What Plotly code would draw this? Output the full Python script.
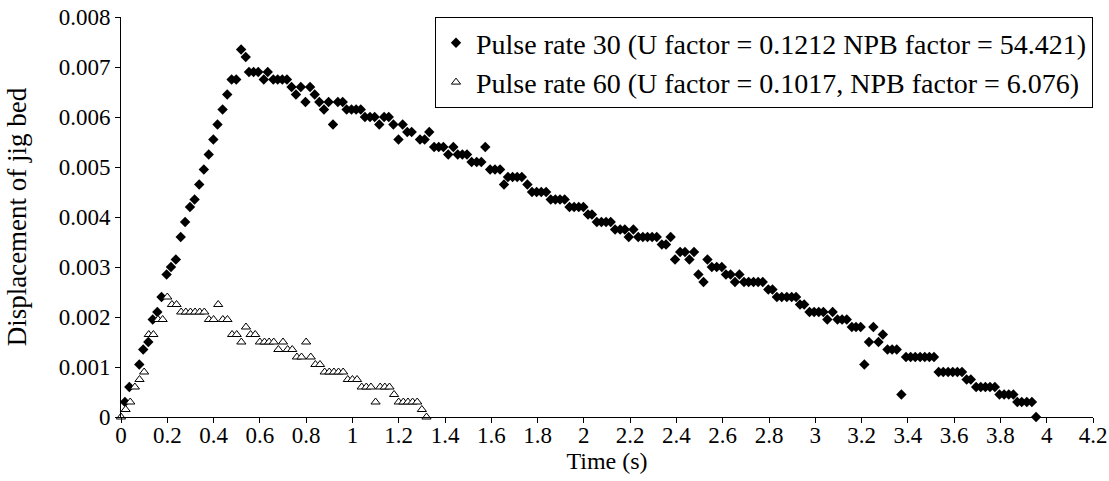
import plotly.graph_objects as go

# pulse rate 30: time (s) and displacement of jig bed (m)
t30 = [0.017, 0.036, 0.079, 0.096, 0.118, 0.137, 0.157, 0.175, 0.197, 0.216, 0.237,
       0.258, 0.277, 0.298, 0.318, 0.338, 0.358, 0.379, 0.399, 0.417, 0.439, 0.459, 0.478, 0.498, 0.519, 0.539,
       0.553, 0.573, 0.593, 0.617, 0.634, 0.658, 0.677, 0.697, 0.717, 0.737, 0.756, 0.777, 0.797, 0.817, 0.837,
       0.857, 0.877, 0.897, 0.916, 0.937, 0.958,
       0.975, 0.996, 1.016, 1.036, 1.054, 1.076, 1.096, 1.116, 1.137, 1.157, 1.177, 1.199, 1.217, 1.237, 1.256,
       1.292, 1.312, 1.332, 1.353, 1.373, 1.393, 1.414, 1.436, 1.455, 1.475, 1.495, 1.515, 1.537, 1.557, 1.574,
       1.595, 1.616, 1.638, 1.655, 1.672, 1.692, 1.712, 1.732, 1.756,
       1.776, 1.796, 1.816, 1.837, 1.857, 1.877, 1.897, 1.917, 1.938, 1.958, 1.978, 1.998, 2.018, 2.035,
       2.056, 2.076, 2.096, 2.116, 2.135, 2.157, 2.177, 2.194, 2.214, 2.235, 2.255, 2.275, 2.295, 2.315,
       2.337, 2.355, 2.375,
       2.394, 2.416, 2.437, 2.456, 2.476, 2.495, 2.517, 2.534, 2.553, 2.574, 2.596, 2.614, 2.634, 2.653, 2.672,
       2.692, 2.712, 2.733, 2.753, 2.773, 2.797, 2.815, 2.834, 2.855, 2.877, 2.898, 2.917, 2.934, 2.952,
       2.975, 2.995, 3.015, 3.035, 3.052, 3.075, 3.096, 3.116, 3.136, 3.158, 3.176, 3.196,
       3.212, 3.232, 3.251, 3.273, 3.292, 3.312, 3.332, 3.352, 3.372,
       3.392, 3.412, 3.432, 3.453, 3.473, 3.493, 3.513, 3.533, 3.553, 3.574, 3.594, 3.614, 3.634,
       3.654, 3.672, 3.695, 3.715, 3.735, 3.755, 3.776, 3.796, 3.816, 3.836, 3.856,
       3.873, 3.892, 3.914, 3.936, 3.954]
d30 = [0.0003, 0.0006, 0.00105, 0.00135, 0.0015, 0.00195, 0.0021, 0.0024, 0.00285, 0.003, 0.00315,
       0.0036, 0.0039, 0.0042, 0.00435, 0.00465, 0.00495, 0.00525, 0.00555, 0.00585, 0.00615, 0.00645,
       0.00675, 0.00675, 0.00735, 0.0072,
       0.0069, 0.0069, 0.0069, 0.00675, 0.0069, 0.00675, 0.00675, 0.00675, 0.00675, 0.0066, 0.00645,
       0.0066, 0.0063, 0.0066, 0.00645, 0.0063, 0.00615, 0.0063, 0.00585, 0.0063, 0.0063,
       0.00615, 0.00615, 0.00615, 0.00615, 0.006, 0.006, 0.006, 0.00585, 0.006, 0.006, 0.00585, 0.00555,
       0.00585, 0.0057, 0.0057,
       0.00555, 0.00555, 0.0057, 0.0054, 0.0054, 0.0054, 0.00525, 0.0054, 0.00525, 0.00525, 0.00525,
       0.0051, 0.0051, 0.0051, 0.0054,
       0.00495, 0.00495, 0.00495, 0.00465, 0.0048, 0.0048, 0.0048, 0.0048, 0.00465,
       0.0045, 0.0045, 0.0045, 0.0045, 0.00435, 0.00435, 0.00435, 0.00435, 0.0042, 0.0042, 0.0042, 0.0042,
       0.00405, 0.00405,
       0.0039, 0.0039, 0.0039, 0.0039, 0.00375, 0.00375, 0.00375, 0.0036, 0.00375, 0.0036, 0.0036, 0.0036,
       0.0036, 0.0036, 0.00345, 0.00345, 0.0036,
       0.00315, 0.0033, 0.0033, 0.00315, 0.0033, 0.00285, 0.0027, 0.00315, 0.003, 0.003, 0.003, 0.00285,
       0.00285, 0.0027, 0.00285,
       0.0027, 0.0027, 0.0027, 0.0027, 0.0027, 0.00255, 0.00255, 0.0024, 0.0024, 0.0024, 0.0024, 0.0024,
       0.00225, 0.00225,
       0.0021, 0.0021, 0.0021, 0.0021, 0.00195, 0.0021, 0.00195, 0.00195, 0.00195, 0.0018, 0.0018, 0.0018,
       0.00105, 0.0015, 0.0018, 0.0015, 0.00165, 0.00135, 0.00135, 0.00135, 0.00045,
       0.0012, 0.0012, 0.0012, 0.0012, 0.0012, 0.0012, 0.0012, 0.0009, 0.0009, 0.0009, 0.0009, 0.0009, 0.0009,
       0.00075, 0.00075, 0.0006, 0.0006, 0.0006, 0.0006, 0.0006, 0.00045, 0.00045, 0.00045, 0.00045,
       0.0003, 0.0003, 0.0003, 0.0003, 0.0]

# pulse rate 60
t60 = [0.00, 0.02, 0.04, 0.06, 0.08, 0.10, 0.12, 0.14, 0.16, 0.18, 0.20, 0.22, 0.24, 0.26, 0.28, 0.30,
       0.32, 0.34, 0.36, 0.38, 0.40, 0.42, 0.44, 0.46, 0.48, 0.50, 0.52, 0.54, 0.56, 0.58, 0.60, 0.62,
       0.64, 0.66, 0.68, 0.70, 0.72, 0.74, 0.76, 0.78, 0.80, 0.82, 0.84, 0.86, 0.88, 0.90, 0.92, 0.94,
       0.96, 0.98, 1.00, 1.02, 1.04, 1.06, 1.08, 1.10, 1.12, 1.14, 1.16, 1.18, 1.20, 1.22, 1.24, 1.26,
       1.28, 1.30, 1.32]
d60 = [0.0, 0.00015, 0.0003, 0.0006, 0.00075, 0.0009, 0.00165, 0.00165, 0.00195, 0.00195, 0.0024,
       0.00225, 0.00225, 0.0021, 0.0021, 0.0021, 0.0021, 0.0021, 0.0021, 0.00195, 0.00195, 0.00225,
       0.00195, 0.00195, 0.00165, 0.00165, 0.0015, 0.0018, 0.00165, 0.00165, 0.0015, 0.0015, 0.0015,
       0.0015, 0.00135, 0.0015, 0.00135, 0.00135, 0.0012, 0.0012, 0.0015, 0.0012, 0.00105, 0.00105,
       0.0009, 0.0009, 0.0009, 0.0009, 0.0009, 0.00075, 0.00075, 0.00075, 0.0006, 0.0006, 0.0006,
       0.0003, 0.0006, 0.0006, 0.0006, 0.00045, 0.0003, 0.0003, 0.0003, 0.0003, 0.0003, 0.00015, 0.0]

assert len(t30) == len(d30) and len(t60) == len(d60)

name30 = 'Pulse rate 30 (U factor = 0.1212 NPB factor = 54.421)'
name60 = 'Pulse rate 60 (U factor = 0.1017, NPB factor = 6.076)'

serif = 'Liberation Serif, Times New Roman, serif'
tick_font = dict(family=serif, size=23, color='black')
xtitle_font = dict(family=serif, size=24, color='black')
ytitle_font = dict(family=serif, size=27, color='black')
legend_font = dict(family=serif, size=28, color='black')

fig = go.Figure()
fig.add_trace(go.Scatter(x=t30, y=d30, mode='markers', name=name30, cliponaxis=False,
                         marker=dict(symbol='diamond', size=8, color='black')))
fig.add_trace(go.Scatter(x=t60, y=d60, mode='markers', name=name60, cliponaxis=False,
                         marker=dict(symbol='triangle-up', size=8, color='white',
                                     line=dict(color='black', width=1))))

axis_style = dict(showline=True, linecolor='black', linewidth=1, showgrid=False, zeroline=False,
                  ticks='outside', ticklen=5, tickcolor='black', tickfont=tick_font, automargin=False)

fig.update_xaxes(range=[0, 4.2], dtick=0.2, tick0=0, ticklabelstandoff=-8,
                 title=dict(text='Time (s)', font=xtitle_font, standoff=5), **axis_style)
fig.update_yaxes(range=[0, 0.008], dtick=0.001, tick0=0, ticklabelstandoff=0,
                 title=dict(text='Displacement of jig bed', font=ytitle_font, standoff=24), **axis_style)

fig.update_layout(width=1109, height=481, margin=dict(l=121, r=16, t=17, b=64),
                  plot_bgcolor='white', paper_bgcolor='white', font=tick_font,
                  legend=dict(x=1, xanchor='right', y=1, yanchor='top', bgcolor='white',
                              bordercolor='black', borderwidth=1, font=legend_font,
                              tracegroupgap=0, itemwidth=30))

# drop the browser's default body margin so the figure sits at the page corner
fig.write_html('out.html', config={'displayModeBar': False},
               post_script="document.body.style.margin='0';")
